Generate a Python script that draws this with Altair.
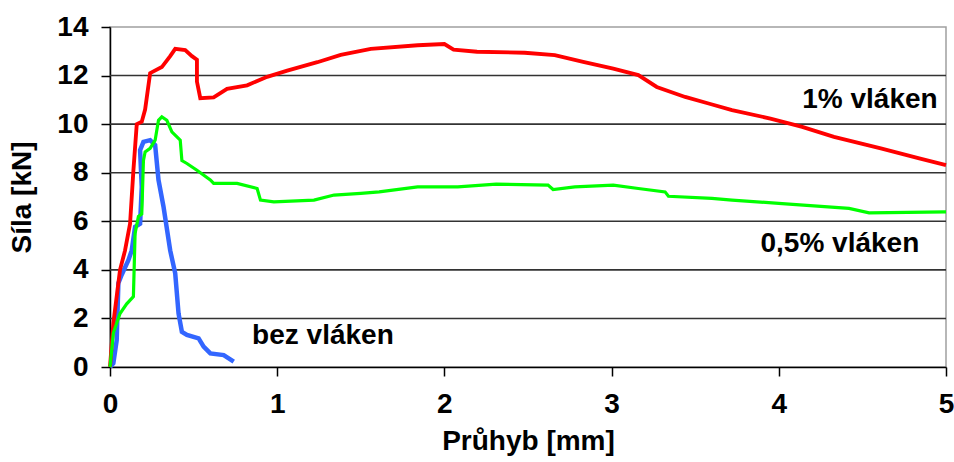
import altair as alt
import pandas as pd

# 1% vláken (red)
red_x = [0.0, 0.02, 0.06, 0.09, 0.12, 0.14, 0.16, 0.19, 0.21, 0.24, 0.31, 0.36, 0.39, 0.45, 0.49,
         0.52, 0.52, 0.54, 0.62, 0.70, 0.82, 0.94, 1.06, 1.24, 1.38, 1.56, 1.84, 2.0, 2.055, 2.195,
         2.48, 2.66, 2.83, 3.01, 3.16, 3.27, 3.44, 3.58, 3.72, 3.95, 4.14, 4.33, 4.61, 4.84, 5.0]
red_y = [0.0, 1.8, 4.0, 4.8, 5.9, 8.1, 10.0, 10.1, 10.6, 12.1, 12.35, 12.8, 13.1, 13.05, 12.8,
         12.65, 11.75, 11.07, 11.1, 11.45, 11.6, 11.95, 12.2, 12.55, 12.85, 13.1, 13.25, 13.3, 13.07, 12.98,
         12.94, 12.84, 12.56, 12.29, 12.02, 11.53, 11.12, 10.85, 10.58, 10.23, 9.89, 9.48, 9.0, 8.59, 8.31]

# 0,5% vláken (green)
green_x = [0.0, 0.02, 0.06, 0.10, 0.14, 0.15, 0.17, 0.19, 0.20, 0.21, 0.24, 0.27, 0.29, 0.31, 0.34,
           0.37, 0.42, 0.43, 0.46, 0.52, 0.60, 0.62, 0.76, 0.88, 0.90, 0.98, 1.22, 1.34, 1.50, 1.61,
           1.84, 2.08, 2.31, 2.62, 2.65, 2.78, 3.01, 3.16, 3.32, 3.34, 3.60, 3.72, 4.02, 4.42, 4.54, 5.0]
green_y = [0.0, 1.4, 2.2, 2.6, 2.9, 5.5, 6.2, 6.3, 8.5, 8.86, 9.0, 9.34, 10.16, 10.3, 10.16,
           9.68, 9.34, 8.5, 8.38, 8.1, 7.7, 7.56, 7.56, 7.35, 6.87, 6.8, 6.87, 7.08, 7.15, 7.21,
           7.42, 7.42, 7.53, 7.49, 7.31, 7.42, 7.49, 7.35, 7.21, 7.03, 6.94, 6.87, 6.73, 6.53, 6.35, 6.39]

# bez vláken (blue)
blue_x = [0.0, 0.02, 0.04, 0.05, 0.07, 0.11, 0.13, 0.15, 0.18, 0.19, 0.18, 0.20, 0.24, 0.27, 0.29,
          0.32, 0.36, 0.39, 0.41, 0.43, 0.46, 0.53, 0.56, 0.60, 0.68, 0.74]
blue_y = [0.0, 0.15, 1.1, 3.45, 3.8, 4.4, 4.8, 5.77, 5.9, 7.42, 8.93, 9.27, 9.34, 9.14, 7.7,
          6.6, 4.8, 3.86, 2.2, 1.45, 1.32, 1.18, 0.84, 0.56, 0.49, 0.22]

series_names = ["bez vláken", "1% vláken", "0,5% vláken"]
series_colors = ["#3366FF", "#FF0000", "#00FF00"]

label_text = ["1% vláken", "0,5% vláken", "bez vláken"]
label_x = [4.95, 4.84, 0.85]
label_y = [11.0, 5.05, 1.28]
label_align = ["right", "right", "left"]

grid_values = [2, 4, 6, 8, 10, 12]
x_ticks = [0, 1, 2, 3, 4, 5]
y_ticks = [0, 2, 4, 6, 8, 10, 12, 14]

rows = []
for name, xs, ys in [("bez vláken", blue_x, blue_y), ("1% vláken", red_x, red_y), ("0,5% vláken", green_x, green_y)]:
    for i, (a, b) in enumerate(zip(xs, ys)):
        rows.append({"series": name, "x": a, "y": b, "i": i})
df = pd.DataFrame(rows)

lab = pd.DataFrame({"t": label_text, "x": label_x, "y": label_y, "a": label_align})
grid = pd.DataFrame({"g": grid_values})

FONT = "Liberation Sans"
FS = 28

xscale = alt.Scale(domain=[0, 5], nice=False, zero=False)
yscale = alt.Scale(domain=[0, 14], nice=False)

xaxis = alt.Axis(values=x_ticks, format="d", title="Průhyb [mm]", grid=False, labelFont=FONT, labelFontSize=FS,
                 labelFontWeight="bold", titleFont=FONT, titleFontSize=FS, titleFontWeight="bold",
                 labelColor="black", titleColor="black", domainColor="black", tickColor="black",
                 tickSize=9, labelPadding=14, titlePadding=9, domainWidth=1.5, tickWidth=1.5,
                 labelFlush=False)
yaxis = alt.Axis(values=y_ticks, format="d", title="Síla [kN]", grid=False, labelFont=FONT, labelFontSize=FS,
                 labelFontWeight="bold", titleFont=FONT, titleFontSize=FS, titleFontWeight="bold",
                 labelColor="black", titleColor="black", domainColor="black", tickColor="black",
                 tickSize=9, labelPadding=13, titlePadding=20, domainWidth=1.5, tickWidth=1.5,
                 labelFlush=False)

gridlines = alt.Chart(grid).mark_rule(color="#333333", strokeWidth=1.6).encode(
    y=alt.Y("g:Q", scale=yscale, axis=yaxis)
)

lines = alt.Chart(df).mark_line(interpolate="linear").encode(
    x=alt.X("x:Q", scale=xscale, axis=xaxis),
    y=alt.Y("y:Q", scale=yscale, axis=yaxis),
    color=alt.Color("series:N", scale=alt.Scale(domain=series_names, range=series_colors), legend=None),
    strokeWidth=alt.StrokeWidth("series:N", scale=alt.Scale(domain=series_names, range=[4.5, 3.2, 3.2]), legend=None),
    order="i:Q",
    detail="series:N",
)

labels_r = alt.Chart(lab[lab.a == "right"]).mark_text(
    font=FONT, fontSize=FS, fontWeight="bold", align="right", baseline="middle", color="black"
).encode(x=alt.X("x:Q", scale=xscale), y=alt.Y("y:Q", scale=yscale), text="t:N")
labels_l = alt.Chart(lab[lab.a == "left"]).mark_text(
    font=FONT, fontSize=FS, fontWeight="bold", align="left", baseline="middle", color="black"
).encode(x=alt.X("x:Q", scale=xscale), y=alt.Y("y:Q", scale=yscale), text="t:N")

chart = alt.layer(gridlines, lines, labels_r, labels_l).properties(
    width=836, height=340,
    autosize=alt.AutoSizeParams(type="none"),
    padding={"left": 110, "top": 27, "right": 8, "bottom": 95},
    background="white",
).configure_view(stroke="#A0A0A0", strokeWidth=1.5)

chart.save("out.html", embed_options={"renderer": "svg", "actions": False})
